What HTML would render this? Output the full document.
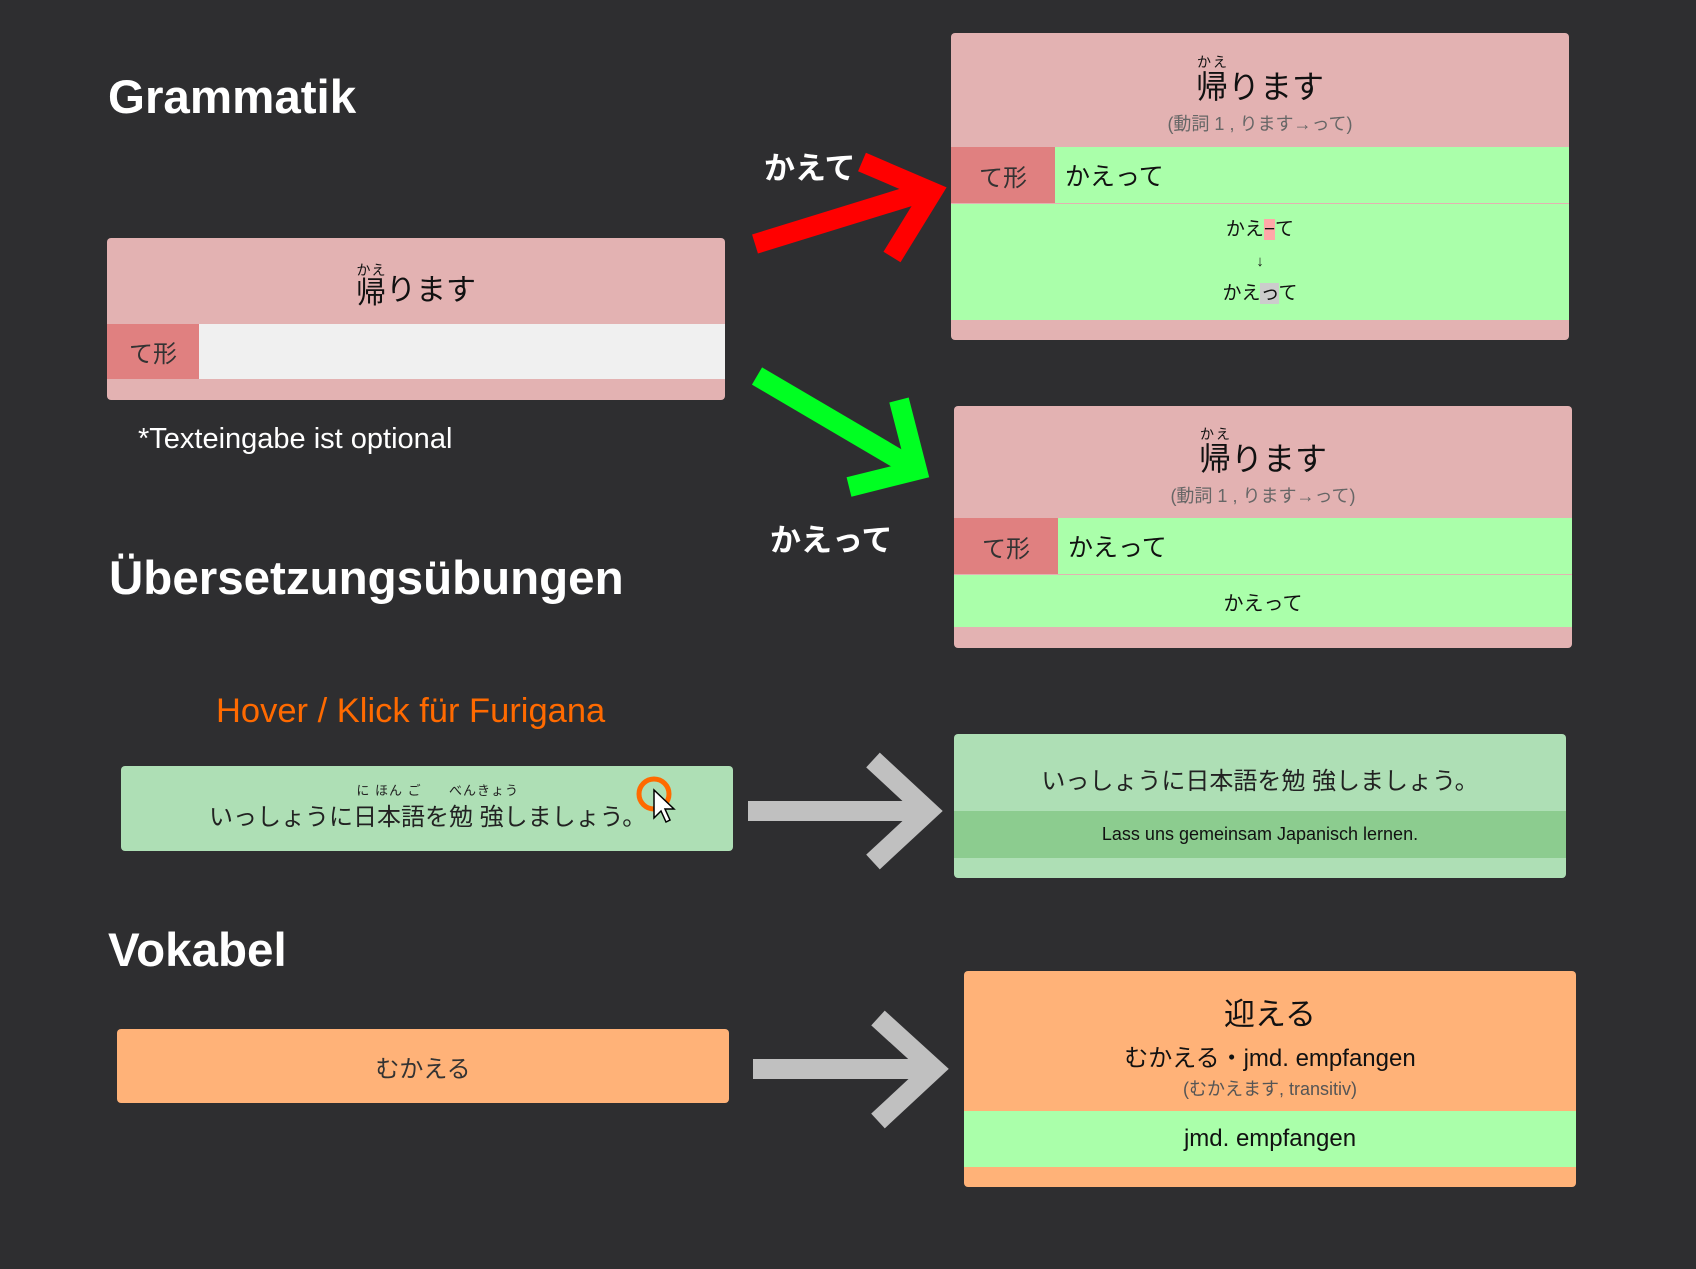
<!DOCTYPE html>
<html><head><meta charset="utf-8"><style>
*{margin:0;padding:0;box-sizing:border-box}
body{width:1696px;height:1269px;background:#2e2e30;position:relative;overflow:hidden;font-family:"Liberation Sans","Noto Sans CJK JP",sans-serif;color:#111}
.a{position:absolute}
.h{color:#fff;font-weight:bold;font-size:47.5px;line-height:1}
.card{position:absolute;border-radius:4px;overflow:hidden}
.row{position:absolute;left:0;right:0;display:flex;align-items:center;justify-content:center}
.pink{background:#e3b2b2}
.green{background:#aaffaa}
.lbl{position:absolute;left:0;top:0;bottom:0;background:#e08080;display:flex;align-items:center;justify-content:center;font-size:24px;color:#333}
ruby rt{font-size:14px}
.fr{position:relative;display:inline-block}
.fr i{position:absolute;left:0;right:0;top:-17px;font-style:normal;font-size:13px;text-align:center;white-space:nowrap;letter-spacing:1px}
</style></head><body>

<div class="a h" style="left:108px;top:74px">Grammatik</div>
<div class="a h" style="left:109px;top:555px">Übersetzungsübungen</div>
<div class="a h" style="left:108px;top:927px">Vokabel</div>

<div class="card pink" style="left:107px;top:238px;width:618px;height:162px">
  <div class="row" style="top:0;height:85px;font-size:30px;padding-top:12px"><ruby>帰<rt>かえ</rt></ruby>ります</div>
  <div class="row" style="top:86px;height:55px;background:#f0f0f0"></div>
  <div class="lbl" style="top:86px;bottom:auto;height:55px;width:92px">て形</div>
</div>
<div class="a" style="left:138px;top:423px;color:#fff;font-size:29px">*Texteingabe ist optional</div>

<div class="a" style="left:764px;top:143px;color:#fff;font-weight:bold;font-size:31px">かえて</div>
<div class="a" style="left:770px;top:515px;color:#fff;font-weight:bold;font-size:31px">かえって</div>

<div class="card pink" style="left:951px;top:33px;width:618px;height:307px">
  <div class="row" style="top:0;height:113px;flex-direction:column">
    <div style="font-size:32px;margin-top:10px"><ruby>帰<rt>かえ</rt></ruby>ります</div>
    <div style="font-size:18px;color:#666;margin-top:2px">(動詞 1 , ります→って)</div>
  </div>
  <div class="row green" style="top:114px;height:56px;justify-content:flex-start;padding-left:114px;font-size:25px">かえって</div>
  <div class="lbl" style="top:114px;bottom:auto;height:56px;width:104px">て形</div>
  <div class="row green" style="top:171px;height:116px;flex-direction:column;font-size:19px;line-height:32px">
    <div>かえ<span style="background:#ffa8a8">−</span>て</div>
    <div style="font-size:15px">↓</div>
    <div>かえ<span style="background:#cccccc">っ</span>て</div>
  </div>
</div>

<div class="card pink" style="left:954px;top:406px;width:618px;height:242px">
  <div class="row" style="top:0;height:111px;flex-direction:column">
    <div style="font-size:32px;margin-top:10px"><ruby>帰<rt>かえ</rt></ruby>ります</div>
    <div style="font-size:18px;color:#666;margin-top:2px">(動詞 1 , ります→って)</div>
  </div>
  <div class="row green" style="top:112px;height:56px;justify-content:flex-start;padding-left:114px;font-size:25px">かえって</div>
  <div class="lbl" style="top:112px;bottom:auto;height:56px;width:104px">て形</div>
  <div class="row green" style="top:169px;height:52px;font-size:20px">かえって</div>
</div>

<div class="a" style="left:216px;top:692px;color:#ff6a00;font-size:34.5px">Hover / Klick für Furigana</div>

<div class="card" style="left:121px;top:766px;width:612px;height:85px;background:#aedfb5">
  <div class="a" style="left:88px;top:31px;font-size:24px;white-space:nowrap;color:#222">いっしょうに<span class="fr"><i>に ほん ご</i>日本語</span>を<span class="fr"><i>べんきょう</i>勉 強</span>しましょう。</div>
</div>

<div class="card" style="left:954px;top:734px;width:612px;height:144px;background:#aedfb5">
  <div class="row" style="top:6px;height:76px;font-size:24px;color:#222">いっしょうに日本語を勉 強しましょう。</div>
  <div class="row" style="top:77px;height:47px;background:#8ccc8f;font-size:18px">Lass uns gemeinsam Japanisch lernen.</div>
</div>

<div class="card" style="left:117px;top:1029px;width:612px;height:74px;background:#ffb278">
  <div class="row" style="top:0;height:74px;font-size:24px;color:#333">むかえる</div>
</div>
<div class="card" style="left:964px;top:971px;width:612px;height:216px;background:#ffb278">
  <div class="row" style="top:0;height:139px;flex-direction:column">
    <div style="font-size:31px;margin-top:8px">迎える</div>
    <div style="font-size:24px;margin-top:4px">むかえる・jmd. empfangen</div>
    <div style="font-size:18px;color:#555;margin-top:2px">(むかえます, transitiv)</div>
  </div>
  <div class="row green" style="top:140px;height:56px;font-size:24px">jmd. empfangen</div>
</div>

<svg class="a" style="left:0;top:0;z-index:5" width="1696" height="1269">
  <g fill="none" stroke-linecap="butt" stroke-linejoin="miter">
    <path d="M755 244 L930 190" stroke="#ff0000" stroke-width="20"/>
    <path d="M862 162 L932 192 L892 257" stroke="#ff0000" stroke-width="20"/>
    <path d="M757 376 L917 470" stroke="#00ff22" stroke-width="20"/>
    <path d="M899 400 L917 470 L849 487" stroke="#00ff22" stroke-width="20"/>
    <path d="M748 811 L928 811" stroke="#c0c0c0" stroke-width="20"/>
    <path d="M873 760 L928 811 L873 862" stroke="#c0c0c0" stroke-width="20"/>
    <path d="M753 1069 L934 1069" stroke="#c0c0c0" stroke-width="20"/>
    <path d="M878 1018 L934 1069 L878 1121" stroke="#c0c0c0" stroke-width="20"/>
  </g>
  <circle cx="654" cy="794" r="15" fill="none" stroke="#ff6a00" stroke-width="5"/>
  <path d="M654 790 L654 818 L661 811 L666 822 L670 820 L665 809 L674 809 Z" fill="#fff" stroke="#000" stroke-width="1.5"/>
</svg>

</body></html>
